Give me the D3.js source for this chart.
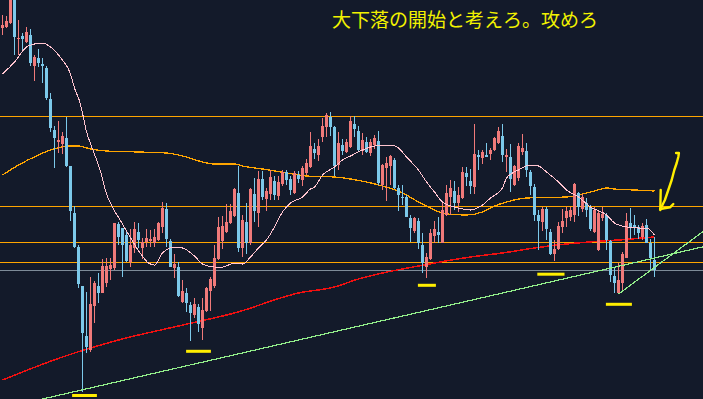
<!DOCTYPE html>
<html>
<head>
<meta charset="utf-8">
<style>
  body { margin: 0; background: #131a2a; overflow: hidden; }
  svg { display: block; background: #131a2a; }
</style>
</head>
<body>
<svg width="703" height="399"></svg>
<script src="https://d3js.org/d3.v7.min.js"></script>
<script>
const width = 703, height = 399;

// one row per candle: open, high, low, close
const candles = [
  [372,385,365,375],[373,384,372,379],[377,415,376,408],[405,412,345,363],[361,380,345,362],
  [364,367,348,361],[358,373,357,368],[365,371,334,337],[334,345,319,343],[342,351,333,337],
  [336,342,317,334],[332,334,300,302],[301,307,268,272],[270,274,232,262],[258,279,247,260],
  [256,268,246,264],[262,283,233,234],[234,234,179,189],[187,194,152,153],[153,155,112,116],
  [114,114,8,67],[64,108,47,53],[50,123,48,96],[94,119,77,117],[114,127,97,107],
  [107,141,107,134],[117,142,113,134],[131,142,120,135],[132,177,130,177],[176,178,155,163],
  [172,172,123,155],[165,168,138,139],[138,171,133,155],[152,178,147,171],[168,177,152,160],
  [152,162,141,158],[158,171,153,162],[159,170,153,161],[157,171,153,163],[160,178,159,177],
  [173,198,167,192],[191,197,153,161],[159,161,133,133],[132,146,122,136],[133,138,103,104],
  [98,120,97,109],[107,112,88,97],[95,98,59,87],[85,102,82,96],[93,96,68,76],
  [72,102,60,90],[89,113,88,112],[109,123,89,121],[114,155,112,142],[141,183,140,173],
  [159,184,151,174],[168,196,167,178],[177,196,176,189],[184,212,183,211],[207,234,148,152],
  [152,185,143,180],[178,197,146,157],[157,212,155,211],[206,222,178,189],[187,229,173,221],
  [221,229,200,203],[201,212,189,209],[206,230,200,223],[219,224,200,205],[204,224,200,218],
  [216,230,214,228],[228,230,215,220],[221,224,205,210],[207,229,206,227],[225,229,217,221],
  [220,234,214,232],[227,241,225,237],[233,268,232,254],[251,257,241,247],[245,261,239,254],
  [263,282,258,274],[273,287,263,285],[283,288,264,273],[273,274,224,234],[235,268,230,257],
  [255,261,245,249],[248,261,247,258],[253,284,252,279],[276,284,263,271],[269,274,249,250],
  [249,267,245,260],[258,263,247,248],[247,261,244,258],[255,265,251,262],[259,269,215,217],
  [215,236,210,235],[232,243,199,237],[234,245,215,244],[240,242,211,212],[212,215,189,205],
  [203,215,195,202],[203,205,183,183],[182,185,158,172],[169,183,167,182],[179,182,151,157],
  [155,167,127,137],[133,147,122,143],[141,171,140,167],[164,179,157,171],[168,183,157,165],
  [157,197,157,190],[185,215,184,207],[203,220,185,212],[209,219,190,197],[197,213,188,205],
  [202,233,201,228],[227,233,214,223],[219,231,206,214],[213,276,206,246],[245,250,230,243],
  [242,250,236,248],[245,257,243,243],[246,252,240,250],[250,263,249,262],[257,273,256,269],
  [264,276,238,245],[243,251,228,245],[243,256,208,221],[215,235,214,234],[222,257,219,254],
  [248,266,245,252],[249,257,223,230],[228,230,205,214],[213,216,179,185],[185,190,150,179],
  [178,193,169,191],[191,193,160,171],[168,171,145,146],[146,160,139,151],[151,178,150,174],
  [173,191,167,179],[182,193,173,189],[183,193,179,190],[185,217,178,216],[207,208,184,193],
  [191,206,188,203],[197,202,183,190],[193,195,169,171],[168,193,167,190],[150,190,149,187],
  [182,193,179,186],[185,187,150,160],[159,160,118,125],[124,133,107,117],[107,137,106,120],
  [117,148,108,146],[142,187,142,179],[177,192,161,173],[175,185,165,172],[173,175,161,167],
  [163,177,160,174],[175,181,157,157],[157,161,130,142],[140,163,123,130]
];

// horizontal price levels
const levels = [284, 194, 158, 138];
const baseLevel = 130;

// moving averages as [candle index, value]
const maShort = [[0,326],[3,338],[6,353],[8,356],[10,357],[12,353],[14,345],[15,340],[17,326],[18,312],
  [19.4,297],[20.1,285],[20.9,270],[22.6,250],[24.4,230],[26.1,205],[27.6,192],[29.4,180],[31.9,163],
  [34.4,147],[36.5,137],[38,135],[40,147],[43,153],[45,152],[48,144],[50,136],[53,133],[55,133],[58,137],
  [60,136],[62,143],[64,152],[66,160],[68,173],[70,188],[72,197],[75,203],[77,211],[78,213],[80,225],
  [83,233],[85,240],[87,244],[90,250],[92,253],[95,255],[97,255],[99,252],[101,243],[104,230],[106,218],
  [108,208],[110,198],[113,193],[115,191],[117,190],[120,195],[122,202],[125,212],[126,222],[129,230],
  [132,235],[134,234],[136,228],[139,218],[141,210],[144,203],[147,193],[151,185],[153,177],[156,173],
  [159,172],[161,172],[163,165]];
const maMid = [[0,225],[4,235],[9,245],[12,250],[17,254],[19,254],[22,251],[26,249],[34,248],[41,247],
  [46,243],[50,238],[53,236],[58,236],[60,234],[65,231],[71,227],[76,224],[83,223],[87,221],[91,218],
  [95,214],[100,207],[104,198],[108,190],[111,186],[116,185],[120,188],[123,194],[126,198],[131,202],
  [141,203],[145,206],[148,209],[151,212],[153,211],[158,210],[163,209]];
const maLong = [[0,20],[15,43],[29,60],[44,74],[58,87],[74,107],[83,113],[89,121],[95,127],[104,134],
  [108,137],[117,143],[125,147],[133,152],[141,156],[150,159],[154,160],[160,162],[163,163]];

// trend lines [index, value]
const trendA = [[10,1],[176,154]];
const trendB = [[154,106],[176,171]];

// yellow low markers
const markIdx = [20.5, 49, 106.1, 137.1, 154.1];
const markPrice = [4.5, 48.7, 114.7, 125.8, 95.7];
const markSpan = [6.2, 6.2, 4.5, 6.8, 6.5];

// hand drawn arrow, [index, value]
const arrowStem = [[168.4,247],[169.1,247],[168.95,243],[168.55,237],[167.95,230],[167.3,220],
  [166.45,210],[165.6,200],[165.2,196.7],[164.6,191.7]];
const arrowLeft = [[164.55,210],[164.45,190]];
const arrowFoot = [[164.4,191],[166.9,192.7],[167.7,196]];

const note = "大下落の開始と考えろ。攻めろ";

const x = d3.scaleLinear().domain([0, 163]).range([2.5, 654.5]);
const y = d3.scaleLinear().domain([0, 400]).range([400, 0]);

const svg = d3.select("svg");

svg.selectAll(".level")
  .data(levels)
  .join("line")
  .attr("x1", 0).attr("x2", width)
  .attr("y1", d => y(d) + 0.5).attr("y2", d => y(d) + 0.5)
  .attr("stroke", "#ffa500")
  .attr("stroke-width", 1);

svg.append("line")
  .attr("x1", 0).attr("x2", width)
  .attr("y1", y(baseLevel) + 0.5).attr("y2", y(baseLevel) + 0.5)
  .attr("stroke", "#7d8b98")
  .attr("stroke-width", 1);

let line = d3.line()
  .x(d => x(d[0]))
  .y(d => y(d[1]))
  .curve(d3.curveMonotoneX);

// pixel-stepped look like the trading terminal
svg.append("path").attr("d", line(maMid))
  .attr("fill", "none").attr("stroke", "#ffa500").attr("stroke-width", 1.3)
  .attr("shape-rendering", "crispEdges");
svg.append("path").attr("d", line(maLong))
  .attr("fill", "none").attr("stroke", "#f01010").attr("stroke-width", 1.5)
  .attr("shape-rendering", "crispEdges");

let g = svg.append("g");
let up = "#f07a7a", down = "#7cc9ea";

g.selectAll(".wick")
  .data(candles)
  .join("line")
  .attr("x1", (d, i) => x(i)).attr("x2", (d, i) => x(i))
  .attr("y1", d => y(d[1])).attr("y2", d => y(d[2]))
  .attr("stroke", d => d[3] >= d[0] ? up : down)
  .attr("stroke-width", 1);

g.selectAll(".body")
  .data(candles)
  .join("rect")
  .attr("x", (d, i) => x(i) - 1.5)
  .attr("width", 3)
  .attr("y", d => y(Math.max(d[0], d[3])))
  .attr("height", d => Math.max(1, Math.abs(d[0] - d[3])))
  .attr("fill", d => d[3] >= d[0] ? up : down);

svg.append("path").attr("d", line(maShort))
  .attr("fill", "none").attr("stroke", "#ffc4cf").attr("stroke-width", 1)
  .attr("shape-rendering", "crispEdges");

let straight = d3.line().x(d => x(d[0])).y(d => y(d[1]));
[trendA, trendB].forEach(t => {
  svg.append("path").attr("d", straight(t))
    .attr("fill", "none").attr("stroke", "#92ee8a").attr("stroke-width", 1.2)
    .attr("shape-rendering", "crispEdges");
});

svg.selectAll(".mark")
  .data(markIdx)
  .join("rect")
  .attr("x", (d, i) => x(d - markSpan[i] / 2))
  .attr("width", (d, i) => x(markSpan[i]) - x(0))
  .attr("y", (d, i) => y(markPrice[i]) - 1.5)
  .attr("height", 3)
  .attr("fill", "#ffee00");

[arrowStem, arrowLeft, arrowFoot].forEach(a => {
  svg.append("path").attr("d", straight(a))
    .attr("fill", "none").attr("stroke", "#ffee00")
    .attr("stroke-width", 2.4)
    .attr("stroke-linejoin", "round").attr("stroke-linecap", "round");
});

svg.append("text")
  .attr("x", 332).attr("y", 18)
  .attr("dominant-baseline", "central")
  .attr("font-family", "'Noto Sans CJK JP', sans-serif")
  .attr("font-size", 19)
  .attr("fill", "#f2f200")
  .text(note);
</script>
</body>
</html>
